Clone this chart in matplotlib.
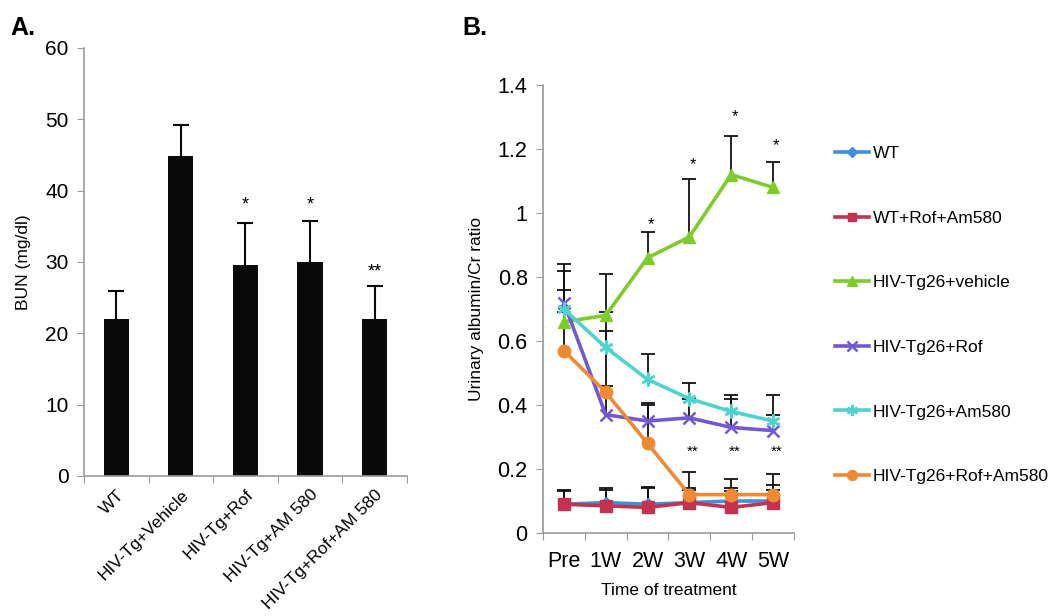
import numpy as np
import matplotlib
matplotlib.use("Agg")
import matplotlib.pyplot as plt

plt.rcParams["font.family"] = ["Liberation Sans", "DejaVu Sans"]

# Panel A: BUN
bun_groups = ["WT", "HIV-Tg+Vehicle", "HIV-Tg+Rof", "HIV-Tg+AM 580", "HIV-Tg+Rof+AM 580"]
bun_mean = [22.0, 44.9, 29.6, 30.0, 22.0]
bun_err = [4.0, 4.3, 5.8, 5.8, 4.7]
bun_marks = ["", "", "*", "*", "**"]
bun_mark_y = [0, 0, 38.0, 38.0, 28.6]

# Panel B: urinary albumin/Cr ratio
weeks = ["Pre", "1W", "2W", "3W", "4W", "5W"]
series_names = ["WT", "WT+Rof+Am580", "HIV-Tg26+vehicle", "HIV-Tg26+Rof",
                "HIV-Tg26+Am580", "HIV-Tg26+Rof+Am580"]
wt = [0.09, 0.095, 0.09, 0.095, 0.10, 0.10]
wt_err = [0.045, 0.045, 0.055, 0.045, 0.04, 0.05]
wt_rof_am = [0.09, 0.085, 0.08, 0.095, 0.08, 0.095]
wt_rof_am_err = [0.04, 0.05, 0.06, 0.04, 0.05, 0.04]
vehicle = [0.66, 0.68, 0.86, 0.925, 1.12, 1.08]
vehicle_err = [0.18, 0.13, 0.08, 0.18, 0.12, 0.08]
rof = [0.72, 0.37, 0.35, 0.36, 0.33, 0.32]
rof_err = [0.10, 0.09, 0.05, 0.06, 0.09, 0.05]
am580 = [0.70, 0.58, 0.48, 0.42, 0.38, 0.35]
am580_err = [0.06, 0.11, 0.08, 0.05, 0.05, 0.08]
rof_am = [0.57, 0.44, 0.28, 0.12, 0.12, 0.12]
rof_am_err = [0.12, 0.19, 0.125, 0.07, 0.05, 0.065]
star_weeks = [2, 3, 4, 5]
star_y = [0.965, 1.15, 1.30, 1.21]
dstar_weeks = [3, 4, 5]
dstar_y = [0.255, 0.255, 0.255]

colors = ["#3f8fdc", "#c3324e", "#7dcc2b", "#7458d3", "#4fd3cf", "#ee8a34"]
markers = ["D", "s", "^", "x", (6, 2, 0), "o"]
msizes = [6, 8, 9, 9, 10, 9]

axis_grey = "#9a9a9a"

fig = plt.figure(figsize=(10.5, 6.16), dpi=100)

# ---- Panel A ----
axA = fig.add_axes([0.080, 0.2273, 0.3076, 0.6948])
xa = np.arange(len(bun_groups))
axA.bar(xa, bun_mean, width=0.39, color="#0a0a0a", zorder=2)
eb = axA.errorbar(xa, bun_mean, yerr=[np.zeros(len(xa)), bun_err], fmt="none",
                  ecolor="#0a0a0a", elinewidth=1.5, capsize=6, capthick=1.5, zorder=3)
eb[1][0].set_visible(False)
for x, m, y in zip(xa, bun_marks, bun_mark_y):
    if m:
        axA.text(x, y, m, ha="center", va="center", fontsize=13)
axA.set_xlim(-0.5, len(bun_groups) - 0.5)
axA.set_ylim(0, 60)
axA.set_yticks(np.arange(0, 61, 10))
axA.set_xticks(np.arange(-0.5, len(bun_groups), 1.0), minor=False)
axA.set_xticklabels([])
axA.set_xticks(xa, minor=True)
axA.set_xticklabels(bun_groups, minor=True, rotation=45, ha="right",
                    rotation_mode="anchor", fontsize=12.5)
axA.tick_params(axis="x", which="minor", length=0, pad=8)
axA.tick_params(axis="x", which="major", length=5, color=axis_grey, direction="out")
axA.tick_params(axis="y", length=5, color=axis_grey, labelsize=15, pad=6)
axA.set_ylabel("BUN (mg/dl)", fontsize=12.5, labelpad=10)
for s in ["top", "right"]:
    axA.spines[s].set_visible(False)
for s in ["left", "bottom"]:
    axA.spines[s].set_color(axis_grey)
    axA.spines[s].set_linewidth(1.2)
fig.text(0.010, 0.955, "A.", fontsize=18, fontweight="bold", va="center")

# ---- Panel B ----
axB = fig.add_axes([0.5171, 0.1347, 0.239, 0.7273])
xb = np.arange(len(weeks))
data = [wt, wt_rof_am, vehicle, rof, am580, rof_am]
errs = [wt_err, wt_rof_am_err, vehicle_err, rof_err, am580_err, rof_am_err]
for vals, err in zip(data, errs):
    e = axB.errorbar(xb, vals, yerr=[np.zeros(len(xb)), err], fmt="none",
                     ecolor="#111111", elinewidth=1.3, capsize=5, capthick=1.3, zorder=2)
    e[1][0].set_visible(False)
handles = []
for name, vals, c, mk, ms in zip(series_names, data, colors, markers, msizes):
    mew = 1.8 if mk in ("x",) or isinstance(mk, tuple) else 1.0
    h, = axB.plot(xb, vals, color=c, lw=2.6, marker=mk, markersize=ms,
                  markeredgecolor=c, markeredgewidth=mew, label=name, zorder=3)
    handles.append(h)
for w, y in zip(star_weeks, star_y):
    axB.text(w + 0.08, y, "*", ha="center", va="center", fontsize=12)
for w, y in zip(dstar_weeks, dstar_y):
    axB.text(w + 0.08, y, "**", ha="center", va="center", fontsize=11)
axB.set_xlim(-0.5, len(weeks) - 0.5)
axB.set_ylim(0, 1.4)
axB.set_yticks([0, 0.2, 0.4, 0.6, 0.8, 1.0, 1.2, 1.4])
axB.set_yticklabels(["0", "0.2", "0.4", "0.6", "0.8", "1", "1.2", "1.4"])
axB.set_xticks(np.arange(-0.5, len(weeks), 1.0))
axB.set_xticklabels([])
axB.set_xticks(xb, minor=True)
axB.set_xticklabels(weeks, minor=True, fontsize=15.5)
axB.tick_params(axis="x", which="minor", length=0, pad=13)
axB.tick_params(axis="x", which="major", length=5, color=axis_grey, direction="out")
axB.tick_params(axis="y", length=5, color=axis_grey, labelsize=15.5, pad=6)
axB.set_ylabel("Urinary albumin/Cr ratio", fontsize=12.5, labelpad=10)
axB.set_xlabel("Time of treatment", fontsize=12.5, labelpad=8)
for s in ["top", "right"]:
    axB.spines[s].set_visible(False)
for s in ["left", "bottom"]:
    axB.spines[s].set_color(axis_grey)
    axB.spines[s].set_linewidth(1.2)
fig.text(0.440, 0.955, "B.", fontsize=18, fontweight="bold", va="center")

fig.legend(handles=handles, loc="center left", bbox_to_anchor=(0.795, 0.4886),
           frameon=False, fontsize=12.5, labelspacing=2.85, handlelength=2.0,
           handletextpad=0.2, borderpad=0, borderaxespad=0, markerscale=0.8)

fig.savefig("out.png", dpi=100)
